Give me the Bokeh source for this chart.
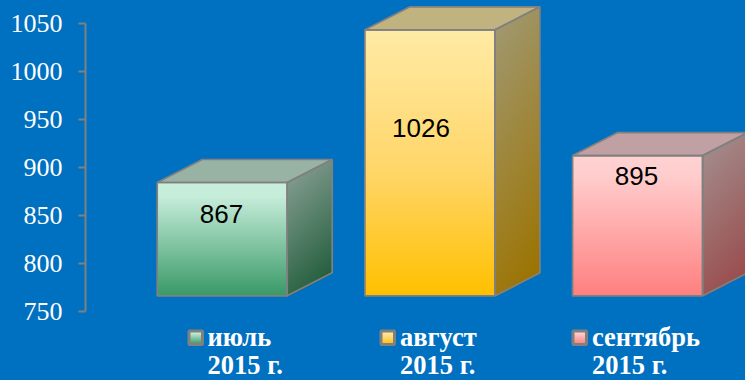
import numpy as np
from bokeh.core.properties import value
from bokeh.embed import file_html
from bokeh.models import FixedTicker, Range1d
from bokeh.plotting import figure
from bokeh.resources import INLINE

# data
months = ["июль", "август", "сентябрь"]
year_label = "2015 г."
values = [867, 1026, 895]
y_ticks = [750, 800, 850, 900, 950, 1000, 1050]

# style: colours
BG = "#0070C0"
EDGE = "#808080"
front_stops = [
    [(0.0, "#C8EFDC"), (0.12, "#C6EDDA"), (1.0, "#3A9A68")],
    [(0.0, "#FFEBA6"), (0.55, "#FFD566"), (1.0, "#FFC000")],
    [(0.0, "#FFD2D2"), (0.15, "#FFCCCC"), (1.0, "#FF8080")],
]
side_stops = [
    [(0.0, "#7F9A8C"), (1.0, "#255F3E")],
    [(0.0, "#A09870"), (1.0, "#9C7300")],
    [(0.0, "#A38A8A"), (1.0, "#994D4D")],
]
top_colors = ["#98B3A4", "#C0B380", "#C0A0A2"]

# style: geometry (pixels of the canvas)
W, H = 745, 380
AX_X = 85
PX_PER_UNIT = 0.96
Y750_PX = 311
BAR0_LEFT, BAR_STEP, BAR_W = 156.7, 207.7, 130.0
DEPTH_X, DEPTH_Y = 45.0, 23.0
BASE_PX = 295.3
LIFT = 17.4
label_centers_px = [(221, 213), (420.5, 127), (636, 175)]
legend_swatch_px = [188.5, 380.5, 572.5]
legend_text_px = [207, 399.5, 591.5]
SWATCH = 13.5
SWATCH_TOP = 330.5
LEGEND_LINE1_PX = 336
LEGEND_LINE2_PX = 364


def xu(px):
    return (px - BAR0_LEFT - BAR_W / 2) / BAR_STEP


def yu(py):
    return 750 + (Y750_PX - py) / PX_PER_UNIT


def hex_rgb(c):
    return np.array([int(c[i:i + 2], 16) for i in (1, 3, 5)], dtype=float)


def ramp(stops, t):
    ts = [s[0] for s in stops]
    cs = np.array([hex_rgb(s[1]) for s in stops])
    return np.stack([np.interp(t, ts, cs[:, i]) for i in range(3)], axis=-1)


def to_rgba(rgb, alpha=None):
    h, w = rgb.shape[:2]
    out = np.zeros((h, w), dtype=np.uint32)
    v = out.view(dtype=np.uint8).reshape((h, w, 4))
    v[:, :, :3] = np.round(rgb).astype(np.uint8)
    v[:, :, 3] = 255 if alpha is None else alpha
    return out


p = figure(
    width=W, height=H, output_backend="svg", toolbar_location=None,
    x_range=Range1d(xu(AX_X), xu(W)), y_range=Range1d(yu(H), yu(0)),
    background_fill_color=BG, border_fill_color=BG, outline_line_color=None,
    min_border_left=AX_X, min_border_right=0, min_border_top=0, min_border_bottom=0,
    x_axis_location=None,
)
p.grid.visible = False
ax = p.yaxis[0]
ax.ticker = FixedTicker(ticks=y_ticks)
ax.bounds = (750, 1050)
ax.axis_line_color = EDGE
ax.axis_line_width = 2
ax.major_tick_line_color = EDGE
ax.major_tick_line_width = 2
ax.major_tick_out = 7
ax.major_tick_in = 0
ax.minor_tick_line_color = None
ax.major_label_text_color = "#FFFFFF"
ax.major_label_text_font = "Liberation Serif"
ax.major_label_text_font_size = "26px"
ax.major_label_standoff = 16

half = BAR_W / 2 / BAR_STEP
dx = DEPTH_X / BAR_STEP
dy = DEPTH_Y / PX_PER_UNIT
base = yu(BASE_PX)

for i, v in enumerate(values):
    top = v + LIFT
    left, right = i - half, i + half
    fh = int(round((top - base) * PX_PER_UNIT))
    fw = int(round(BAR_W))

    # front face, row 0 of an image is its bottom
    t = np.linspace(1, 0, fh)[:, None].repeat(fw, axis=1)
    p.image_rgba(image=[to_rgba(ramp(front_stops[i], t))], x=left, y=base,
                 dw=right - left, dh=top - base)

    # side face: gradient across the parallelogram, masked outside it
    sw, sh = int(DEPTH_X), fh + int(DEPTH_Y)
    yy, xx = np.mgrid[0:sh, 0:sw]
    cols = (xx + 0.5) / sw
    py_from_bottom = yy + 0.5
    low = cols * DEPTH_Y
    high = low + fh
    inside = (py_from_bottom >= low - 1) & (py_from_bottom <= high + 1)
    rel = 1 - (py_from_bottom - low) / fh
    ts = np.clip(0.85 * rel + 0.15 * cols, 0, 1)
    p.image_rgba(image=[to_rgba(ramp(side_stops[i], ts), np.where(inside, 255, 0).astype(np.uint8))],
                 x=right, y=base, dw=dx, dh=top + dy - base)

    # outlines and the flat top face
    p.patch([left, right, right + dx, left + dx], [top, top, top + dy, top + dy],
            fill_color=top_colors[i], line_color=EDGE, line_width=1.7)
    p.patch([right, right + dx, right + dx, right], [base, base + dy, top + dy, top],
            fill_alpha=0, line_color=EDGE, line_width=1.7)
    p.quad(left=left, right=right, bottom=base, top=top,
           fill_alpha=0, line_color=EDGE, line_width=1.7)

    # data label
    cx, cy = label_centers_px[i]
    p.text(x=[xu(cx)], y=[yu(cy)], text=[str(v)], text_color="#000000",
           text_font=value("Liberation Sans"), text_font_size="26px",
           text_align="center", text_baseline="middle")

    # legend entry
    sx = legend_swatch_px[i]
    sl, sr, st, sb = xu(sx), xu(sx + SWATCH), yu(SWATCH_TOP), yu(SWATCH_TOP + SWATCH)
    t = np.linspace(1, 0, int(SWATCH))[:, None].repeat(int(SWATCH), axis=1)
    p.image_rgba(image=[to_rgba(ramp(front_stops[i], t))], x=sl, y=sb, dw=sr - sl, dh=st - sb)
    p.quad(left=sl, right=sr, bottom=sb, top=st, fill_alpha=0, line_color=EDGE, line_width=3)
    p.text(x=[xu(legend_text_px[i])], y=[yu(LEGEND_LINE1_PX)], text=[months[i]], text_color="#FFFFFF",
           text_font=value("Liberation Serif"), text_font_style="bold", text_font_size="26.5px",
           text_align="left", text_baseline="alphabetic")
    p.text(x=[xu(legend_text_px[i])], y=[yu(LEGEND_LINE2_PX)], text=[year_label], text_color="#FFFFFF",
           text_font=value("Liberation Serif"), text_font_style="bold", text_font_size="26.5px",
           text_align="left", text_baseline="alphabetic")

page_style = "{% block postamble %}<style>html,body{margin:0;background:" + BG + ";overflow:hidden}</style>{% endblock %}"
open("out.html", "w").write(file_html(p, INLINE, template=page_style))
